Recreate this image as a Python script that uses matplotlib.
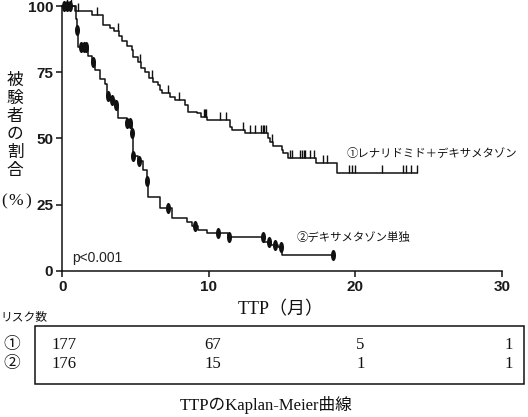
import numpy as np
import matplotlib
matplotlib.use("Agg")
import matplotlib.pyplot as plt
from matplotlib.transforms import blended_transform_factory
from matplotlib.patches import Rectangle

# ---------------- data ----------------
# Curve 1: lenalidomide + dexamethasone (step times in months, survival %)
t1 = [0, 0.9, 2.0, 2.8, 3.25, 3.5, 3.9, 4.05, 4.4, 4.74, 4.85, 5.2, 5.4, 5.65,
      5.9, 6.2, 6.55, 6.67, 6.8, 7.35, 7.7, 8.4, 8.6, 9.2, 9.5, 9.86, 11.45,
      11.6, 12.47, 14.05, 14.2, 14.4, 15.0, 15.1, 15.4, 17.35, 18.75]
s1 = [100, 98.1, 96.7, 92.9, 91.7, 90.4, 88.5, 86.6, 84.7, 83.4, 80.9, 79.0,
      76.5, 75.2, 72.7, 71.4, 70.2, 68.3, 67.0, 65.8, 64.5, 62.6, 60.1, 59.5,
      58.2, 56.9, 54.4, 53.2, 52.2, 50.0, 48.5, 47.2, 45.5, 44.3, 42.7, 40.8,
      37.0]
end1 = 24.2
cens1 = [0.3, 0.6, 1.07, 2.35, 3.8, 5.3, 6.1, 7.2, 8.0, 9.67, 9.77, 9.83,
         10.76, 11.2, 12.33, 12.8, 13.15, 13.6, 13.7, 13.8, 13.9, 14.3, 15.55,
         15.65, 16.2, 16.36, 16.5, 16.6, 16.9, 17.2, 17.8, 18.07, 19.6, 19.8,
         20.0, 21.8, 23.25, 23.5, 23.8, 24.2]

# Curve 2: dexamethasone alone
t2 = [0, 0.95, 1.0, 1.05, 1.1, 1.77, 2.0, 2.2, 2.6, 2.9, 3.05, 3.25, 3.6, 3.8,
      4.4, 4.75, 4.8, 5.17, 5.5, 5.76, 5.85, 6.67, 7.5, 8.5, 8.85, 9.26, 9.86,
      11.3, 13.8, 14.25, 14.7, 15.0]
s2 = [100, 95, 91, 87.5, 84.6, 81, 79, 76, 72.6, 70.4, 66, 64.5, 62.6, 57.7,
      55.8, 52, 43.5, 41.5, 38, 34, 28, 23.5, 20, 18.5, 16.7, 15.4, 14.2, 12.7,
      10.7, 9.8, 8.9, 6.0]
end2 = 18.5
cens2 = [0.15, 0.35, 0.55, 1.02, 1.3, 1.45, 1.6, 2.1, 3.1, 3.4, 3.7, 4.45,
         4.6, 4.77, 4.85, 5.25, 5.8, 7.2, 9.05, 10.6, 11.4, 13.7, 14.1, 14.55,
         14.9, 18.5]

xticks = [0, 10, 20, 30]
yticks = [0, 25, 50, 75, 100]
risk_times = [0, 10, 20, 30]
risk1 = [177, 67, 5, 1]
risk2 = [176, 15, 1, 1]

label1 = "①レナリドミド＋デキサメタゾン"
label2 = "②デキサメタゾン単独"
ylabel_chars = ["被", "験", "者", "の", "割", "合"]

# ---------------- figure ----------------
W, H = 528, 417
fig = plt.figure(figsize=(W / 100, H / 100), dpi=100)
fig.patch.set_facecolor("white")

def fx(px):
    return px / W

def fy(py):
    return 1 - py / H

ax = fig.add_axes([fx(62.3), fy(270.7), fx(501.7) - fx(62.3), fy(6) - fy(270.7)])
ax.set_xlim(0, 30)
ax.set_ylim(0, 100)
for sp in ["top", "right"]:
    ax.spines[sp].set_visible(False)
for sp in ["left", "bottom"]:
    ax.spines[sp].set_linewidth(1.1)
    ax.spines[sp].set_color("#111")

sans = ["Liberation Sans", "DejaVu Sans"]
serif = ["Liberation Serif", "Noto Sans CJK JP"]
cjk = ["Noto Sans CJK JP", "DejaVu Sans"]

ax.set_xticks(xticks)
ax.set_yticks(yticks)
ax.tick_params(axis="both", direction="out", length=4.5, width=1.1,
               color="#111", labelsize=11, labelcolor="#1a1a1a", pad=2)
for lab in ax.get_xticklabels() + ax.get_yticklabels():
    lab.set_family(sans)
    lab.set_fontweight("bold")

def step_value(ts, ss, t):
    idx = np.searchsorted(np.asarray(ts), t, side="right") - 1
    return ss[max(idx, 0)]

# curve 1
x1 = list(t1) + [end1]
y1 = list(s1) + [s1[-1]]
ax.step(x1, y1, where="post", color="#111", lw=1.1, clip_on=False)
c1y = [step_value(t1, s1, t) for t in cens1]
ax.plot(cens1, c1y, linestyle="none", marker=2, ms=5.5, mew=1.0,
        color="#111", clip_on=False)

# curve 2
x2 = list(t2) + [end2]
y2 = list(s2) + [s2[-1]]
ax.step(x2, y2, where="post", color="#111", lw=1.1, clip_on=False)
th = np.linspace(0, 2 * np.pi, 40)
ell = np.column_stack([0.45 * np.cos(th), np.sin(th)])
c2y = [step_value(t2, s2, t) for t in cens2]
ax.plot(cens2, c2y, linestyle="none", marker=ell, ms=8, mew=0,
        color="#111", clip_on=False)

# annotations
fig.text(fx(347), fy(153), label1, family=cjk, fontsize=8.2, ha="left",
         va="center", color="#111")
fig.text(fx(297), fy(237), label2, family=cjk, fontsize=8.2, ha="left",
         va="center", color="#111")
fig.text(fx(72), fy(258), "p<0.001", family=sans, fontsize=10, ha="left",
         va="center", color="#222")

# y label (vertical characters)
ycent = [80.7, 98.3, 116, 134.5, 152.5, 170.7]
for ch, yy in zip(ylabel_chars, ycent):
    fig.text(fx(15), fy(yy), ch, family=cjk, fontsize=12, ha="center",
             va="center", color="#111")
for ch, xx in zip(["(", "%", ")"], [4, 16, 28]):
    fig.text(fx(xx), fy(201), ch, family=serif, fontsize=12.5, ha="center",
             va="center", color="#111")

# x label
fig.text(fx(281), fy(310), "TTP（月）", family=serif, fontsize=13,
         ha="center", va="center", color="#111")

# risk table
fig.text(fx(0), fy(317), "リスク数", family=cjk, fontsize=8.5, ha="left",
         va="center", color="#111")
rect = Rectangle((fx(35), fy(384)), fx(524) - fx(35), fy(325.5) - fy(384),
                 transform=fig.transFigure, fill=False, lw=1.1,
                 edgecolor="#111")
fig.patches.append(rect)
fig.text(fx(12), fy(345), "①", family=cjk, fontsize=12, ha="center",
         va="center", color="#111")
fig.text(fx(12), fy(363.5), "②", family=cjk, fontsize=12, ha="center",
         va="center", color="#111")
tr = blended_transform_factory(ax.transData, fig.transFigure)
for t, a, b in zip(risk_times, risk1, risk2):
    fig.text(t + 0.15 + 0.01 * t, fy(345), str(a), transform=tr,
             family=serif, fontsize=12, ha="center", va="center", color="#111")
    fig.text(t + 0.15 + 0.01 * t, fy(363.5), str(b), transform=tr,
             family=serif, fontsize=12, ha="center", va="center", color="#111")

# caption
fig.text(fx(266), fy(405), "TTPのKaplan-Meier曲線", family=serif, fontsize=12,
         ha="center", va="center", color="#111")

fig.savefig("out.png", dpi=100)
